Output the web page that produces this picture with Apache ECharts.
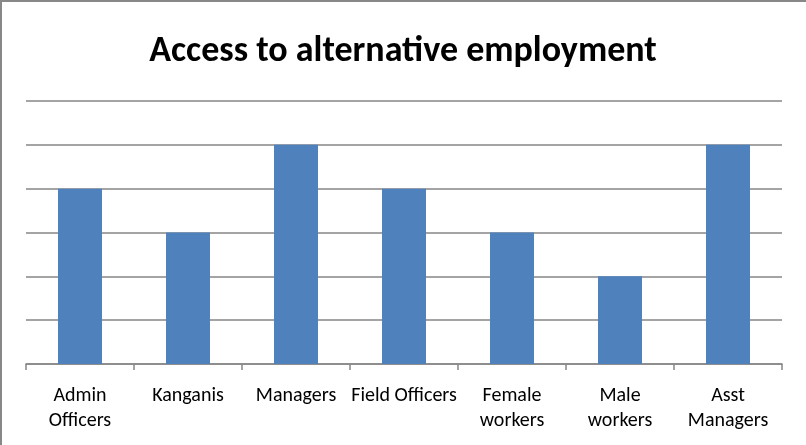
<!DOCTYPE html>
<html><head><meta charset="utf-8">
<script src="https://cdn.jsdelivr.net/npm/echarts@6/dist/echarts.min.js"></script>
<style>html,body{margin:0;padding:0;background:#fff}#c{width:806px;height:445px}</style>
</head><body><div id="c"></div>
<script>
const categories = ['Admin\nOfficers','Kanganis','Managers','Field Officers','Female\nworkers','Male\nworkers','Asst\nManagers'];
const values = [4,3,5,4,3,2,5];
const titleText = 'Access to alternative employment';
const FONT = "Carlito, 'Liberation Sans Narrow', 'Open Sans', sans-serif";
const chart = echarts.init(document.getElementById('c'), null, {renderer:'canvas'});
chart.setOption({
  animation:false,
  backgroundColor:'#fff',
  title:{text:titleText,left:'center',top:29,textStyle:{fontFamily:FONT,fontWeight:'bold',fontSize:36,color:'#000'}},
  grid:{left:26,right:24,top:101,bottom:81},
  xAxis:{type:'category',data:categories,
    axisLine:{lineStyle:{color:'#868686',width:1.5}},
    axisTick:{show:true,length:6,lineStyle:{color:'#868686',width:1.5}},
    axisLabel:{fontFamily:FONT,fontSize:20,color:'#000',margin:19,lineHeight:25,interval:0}},
  yAxis:{type:'value',min:0,max:6,interval:1,axisLabel:{show:false},axisLine:{show:false},axisTick:{show:false},
    splitLine:{lineStyle:{color:'#868686',width:1.5}}},
  series:[{type:'bar',data:values,barWidth:44,itemStyle:{color:'#4F81BD'}}],
  graphic:[
    {type:'rect',shape:{x:0,y:0,width:806,height:2},style:{fill:'#888'},silent:true},
    {type:'rect',shape:{x:0,y:0,width:2,height:445},style:{fill:'#888'},silent:true}
  ]
});
</script></body></html>
